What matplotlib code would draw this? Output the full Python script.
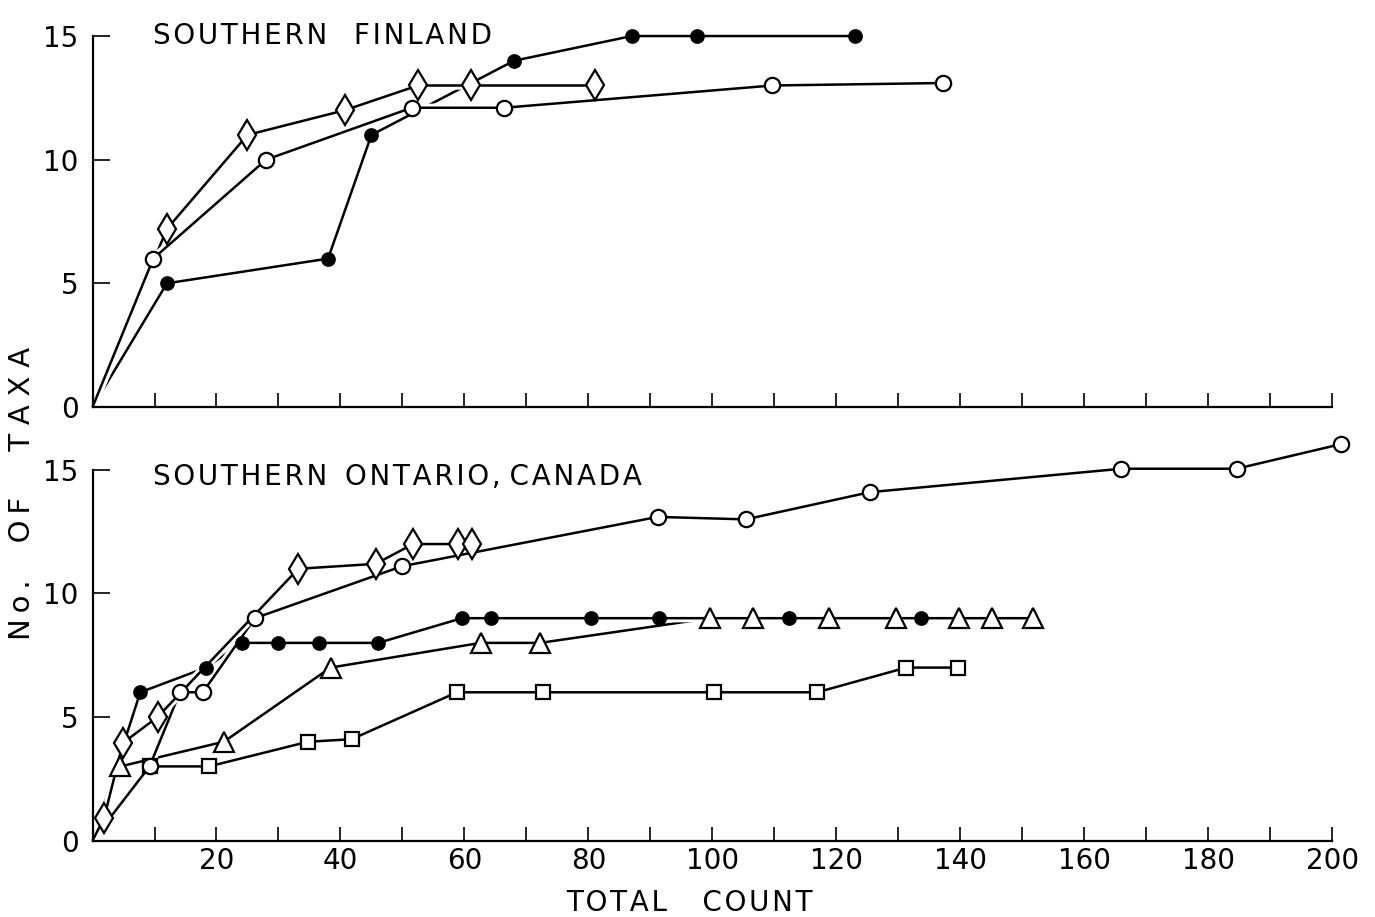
import matplotlib
matplotlib.use("Agg")
import matplotlib.pyplot as plt
import matplotlib.patheffects as pe
from matplotlib.ticker import MultipleLocator

# ── data ────────────────────────────────────────────────────────────────────
# Southern Finland
fin_filled_x = [0, 12, 38, 45, 68, 87, 97.5, 123]
fin_filled_y = [0, 5, 6, 11, 14, 15, 15, 15]
fin_diam_x = [0, 12, 25, 40.7, 52.5, 61, 81]
fin_diam_y = [0, 7.2, 11, 12, 13, 13, 13]
fin_open_x = [0, 9.8, 28, 51.5, 66.4, 109.7, 137.2]
fin_open_y = [0, 6, 10, 12.1, 12.1, 13, 13.1]

# Southern Ontario, Canada
ont_diam_x = [0, 1.85, 4.9, 10.5, 33.2, 45.7, 51.7, 58.9, 61.2]
ont_diam_y = [0, 0.9, 3.95, 5, 11, 11.2, 12, 12, 12]
ont_open_x = [0, 9.2, 14.1, 17.8, 26.2, 49.9, 91.2, 105.4, 125.4, 166, 184.6, 201.5]
ont_open_y = [0, 3, 6, 6, 9, 11.1, 13.1, 13, 14.1, 15.05, 15.05, 16.05]
ont_filled_x = [0, 7.7, 18.3, 24.1, 30, 36.6, 46.1, 59.6, 64.3, 80.4, 91.4, 112.4, 133.6]
ont_filled_y = [0, 6, 7, 8, 8, 8, 8, 9, 9, 9, 9, 9, 9]
ont_tri_x = [0, 4.5, 21.2, 38.4, 62.6, 72.2, 99.7, 106.5, 118.8, 129.6, 139.8, 145.2, 151.8]
ont_tri_y = [0, 3, 4, 7, 8, 8, 9, 9, 9, 9, 9, 9, 9]
ont_sq_x = [0, 9.3, 18.8, 34.8, 41.8, 58.8, 72.7, 100.2, 116.9, 131.3, 139.7]
ont_sq_y = [0, 3, 3, 4, 4.1, 6, 6, 6, 6, 7, 7]

x_ticks = [20, 40, 60, 80, 100, 120, 140, 160, 180, 200]
y_ticks = [0, 5, 10, 15]

INK = "black"
plt.rcParams["font.family"] = ["DejaVu Sans"]

# marker styles: (marker, size, facecolor)
STYLE = {
    "filled": ("o", 9, INK),
    "open": ("o", 11, "white"),
    "diam": ("d", 15, "white"),
    "tri": ("^", 14, "white"),
    "sq": ("s", 10, "white"),
}

halo = [pe.withStroke(linewidth=6, foreground="white")]


def spaced(s, gap="\u200a"):
    # old drafting lettering is widely tracked
    return gap.join(s)


def draw_series(ax, x, y, kind):
    m, ms, fc = STYLE[kind]
    ax.plot(x, y, color=INK, lw=1.8, zorder=2, clip_on=False,
            solid_capstyle="butt", path_effects=halo)
    ax.plot(x[1:], y[1:], ls="none", marker=m, ms=ms, mfc=fc, mec=INK,
            mew=1.6, zorder=4, clip_on=False)


def style_axes(ax, labels):
    ax.set_xlim(0, 200)
    ax.set_ylim(0, 15)
    for side in ("top", "right"):
        ax.spines[side].set_visible(False)
    for side in ("left", "bottom"):
        ax.spines[side].set_linewidth(1.6)
    ax.xaxis.set_major_locator(MultipleLocator(20))
    ax.xaxis.set_minor_locator(MultipleLocator(10))
    ax.set_yticks(y_ticks)
    ax.tick_params(axis="x", which="both", direction="in", length=10,
                   width=1.2, labelsize=20, pad=5)
    ax.tick_params(axis="y", direction="in", length=12, width=1.2,
                   labelsize=20, pad=10)
    if labels:
        ax.set_xticks(x_ticks)
        ax.set_xticklabels([str(v) for v in x_ticks])
    else:
        ax.tick_params(axis="x", which="both", labelbottom=False)


fig = plt.figure(figsize=(13.75, 9.17), dpi=100, facecolor="white")
ax_top = fig.add_axes([0.0673, 0.5562, 0.9015, 0.4045])
ax_bot = fig.add_axes([0.0673, 0.0834, 0.9015, 0.4041])

style_axes(ax_top, labels=False)
style_axes(ax_bot, labels=True)

draw_series(ax_top, fin_filled_x, fin_filled_y, "filled")
draw_series(ax_top, fin_diam_x, fin_diam_y, "diam")
draw_series(ax_top, fin_open_x, fin_open_y, "open")

draw_series(ax_bot, ont_sq_x, ont_sq_y, "sq")
draw_series(ax_bot, ont_tri_x, ont_tri_y, "tri")
draw_series(ax_bot, ont_filled_x, ont_filled_y, "filled")
draw_series(ax_bot, ont_open_x, ont_open_y, "open")
draw_series(ax_bot, ont_diam_x, ont_diam_y, "diam")

ax_top.text(0.049, 1.0, spaced("SOUTHERN") + "   " + spaced("FINLAND"),
            transform=ax_top.transAxes, fontsize=20, va="center", ha="left")
ax_bot.text(0.049, 0.98,
            spaced("SOUTHERN") + "  " + spaced("ONTARIO,") + " " + spaced("CANADA"),
            transform=ax_bot.transAxes, fontsize=20, va="center", ha="left")

fig.text(0.501, 0.0, spaced("TOTAL") + "    " + spaced("COUNT"), fontsize=20,
         ha="center", va="bottom")
fig.text(0.016, 0.462,
         spaced("No.", "\u2009") + "    " + spaced("OF", "\u2009") + "     "
         + spaced("TAXA", "\u2009\u200a"),
         fontsize=21, rotation=90, ha="center", va="center")

fig.savefig("out.png", dpi=100, facecolor="white")
